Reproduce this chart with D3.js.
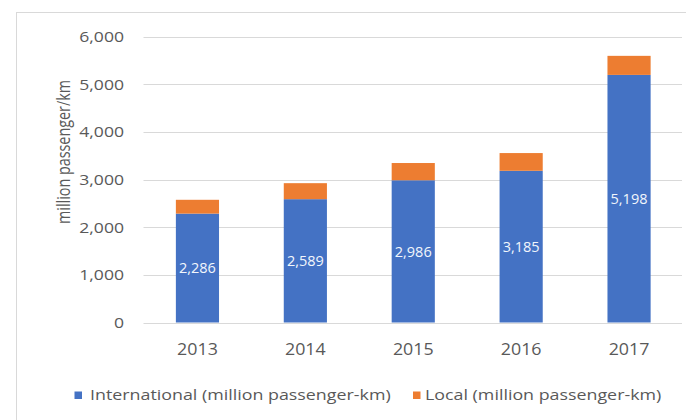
<!DOCTYPE html>
<html>
<head>
<meta charset="utf-8">
<script src="https://cdn.jsdelivr.net/npm/d3@7"></script>
<style>
  html, body { margin: 0; padding: 0; background: #fff; }
  svg { display: block; }
  text { font-family: "Open Sans", "Noto Sans", sans-serif; }
</style>
</head>
<body>
<svg id="chart" width="686" height="420"></svg>
<script>
// ---- data ----
const years = ["2013", "2014", "2015", "2016", "2017"];
const international = [2286, 2589, 2986, 3185, 5198];
const local = [290, 336, 362, 372, 400];
const yTicks = [0, 1000, 2000, 3000, 4000, 5000, 6000];
const seriesNames = ["International (million passenger-km)", "Local (million passenger-km)"];
const yTitle = "million passenger/km";

// ---- layout ----
const W = 686, H = 420;
const plot = { left: 143.5, right: 683, top: 36.7, bottom: 322.5 };
const colors = ["#4472C4", "#ED7D31"];
const grid = "#d9d9d9";
const textGrey = "#595959";
const stretch = 1.15;

const svg = d3.select("#chart");

// chart frame
svg.append("rect")
  .attr("x", 16.5).attr("y", 12.5)
  .attr("width", W + 10).attr("height", H + 10)
  .attr("fill", "none").attr("stroke", grid).attr("stroke-width", 1);

const x = d3.scaleBand().domain(years)
  .range([plot.left, plot.right])
  .paddingInner(0.6).paddingOuter(0.3);
const y = d3.scaleLinear().domain([0, 6000]).range([plot.bottom, plot.top]);

// gridlines
svg.append("g").selectAll("line").data(yTicks).join("line")
  .attr("x1", plot.left).attr("x2", plot.right - 1)
  .attr("y1", d => Math.round(y(d)) + 0.5).attr("y2", d => Math.round(y(d)) + 0.5)
  .attr("stroke", grid).attr("stroke-width", 1);

// y tick labels
const fmt = d3.format(",");
svg.append("g").selectAll("text").data(yTicks).join("text")
  .attr("transform", d => `translate(124,${y(d)}) scale(${stretch},1)`)
  .attr("text-anchor", "end").attr("dy", "0.36em")
  .attr("font-size", 15.3).attr("fill", textGrey)
  .text(d => fmt(d));

// x labels
svg.append("g").selectAll("text").data(years).join("text")
  .attr("transform", d => `translate(${x(d) + x.bandwidth() / 2},355.3) scale(${stretch},1)`)
  .attr("text-anchor", "middle")
  .attr("font-size", 15.5).attr("fill", textGrey)
  .text(d => d);

// stacked bars
const rows = years.map((yr, i) => ({ year: yr, international: international[i], local: local[i] }));
const stack = d3.stack().keys(["international", "local"])(rows);
svg.append("g").selectAll("g").data(stack).join("g")
  .attr("fill", (d, i) => colors[i])
  .selectAll("rect").data(d => d).join("rect")
  .attr("x", d => x(d.data.year))
  .attr("width", x.bandwidth())
  .attr("y", d => y(d[1]))
  .attr("height", d => y(d[0]) - y(d[1]));

// data labels (international)
svg.append("g").selectAll("text").data(rows).join("text")
  .attr("x", d => x(d.year) + x.bandwidth() / 2)
  .attr("y", d => y(d.international / 2))
  .attr("dy", "0.36em")
  .attr("text-anchor", "middle")
  .attr("font-size", 14.5).attr("fill", "#f2f6fc")
  .text(d => fmt(d.international));

// y axis title
svg.append("text")
  .attr("transform", "translate(70,224) rotate(-90) scale(1,1.15)")
  .attr("text-anchor", "start")
  .attr("font-size", 16.5).attr("fill", textGrey)
  .attr("textLength", 144).attr("lengthAdjust", "spacingAndGlyphs")
  .text(yTitle);

// legend
const legendPos = [{ sx: 74.5, tx: 90 }, { sx: 413, tx: 425 }];
const lg = svg.append("g");
seriesNames.forEach((name, i) => {
  lg.append("rect")
    .attr("x", legendPos[i].sx).attr("y", 391.5)
    .attr("width", 7.5).attr("height", 7.5)
    .attr("fill", colors[i]);
  lg.append("text")
    .attr("transform", `translate(${legendPos[i].tx},400.3) scale(1.19,1)`)
    .attr("font-size", 15).attr("fill", textGrey)
    .text(name);
});
</script>
</body>
</html>
